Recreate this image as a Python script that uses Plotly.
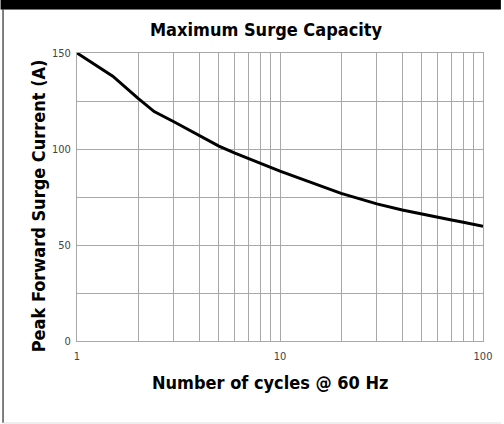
import plotly.graph_objects as go

# values
cycles = [1, 1.5, 2, 2.4, 3, 4, 5, 6, 7, 8, 9, 10, 20, 30, 40, 50, 60, 70, 80, 90, 100]
current = [150, 137.9, 126.4, 119.5, 114.2, 107.0, 101.5, 97.8, 95.1, 92.5, 90.4,
           88.5, 76.9, 71.4, 68.2, 66.0, 64.4, 63.0, 61.8, 60.9, 59.8]

x_ticks = [1, 10, 100]
x_ticklabels = ["1", "10", "100"]
y_ticks = [0, 50, 100, 150]

W, H = 504, 424
L, R, T, B = 77, 18, 53, 83
pw, ph = W - L - R, H - T - B


def px(x):
    return (x - L) / pw


def py(y):
    return (H - B - y) / ph


font = "DejaVu Sans Condensed, Liberation Sans Narrow, sans-serif"
grid = "#a8a8a8"

fig = go.Figure(
    go.Scatter(
        x=cycles,
        y=current,
        mode="lines",
        line=dict(color="black", width=3),
        showlegend=False,
    )
)

fig.update_layout(
    width=W,
    height=H,
    paper_bgcolor="white",
    plot_bgcolor="white",
    margin=dict(l=L, r=R, t=T, b=B),
    xaxis=dict(
        type="log",
        range=[0, 2],
        tickvals=x_ticks,
        ticktext=x_ticklabels,
        showgrid=True,
        gridcolor=grid,
        gridwidth=1,
        minor=dict(showgrid=True, gridcolor=grid, gridwidth=1,
                   dtick="D1", ticks=""),
        showline=True,
        linecolor=grid,
        mirror=True,
        ticks="",
        ticklabelstandoff=5,
        tickfont=dict(family=font, size=11, color="#444"),
    ),
    yaxis=dict(
        range=[0, 150],
        tickvals=y_ticks,
        showgrid=True,
        gridcolor=grid,
        gridwidth=1,
        minor=dict(showgrid=True, gridcolor=grid, gridwidth=1,
                   tickvals=[25, 75, 125], ticks=""),
        showline=True,
        linecolor=grid,
        mirror=True,
        zeroline=False,
        ticks="",
        ticklabelstandoff=3,
        tickfont=dict(family=font, size=11, color="#444"),
    ),
    annotations=[
        dict(text="<b>Maximum Surge Capacity</b>", xref="paper", yref="paper",
             x=px(268), y=py(30), xanchor="center", yanchor="middle",
             showarrow=False, font=dict(family=font, size=18, color="black")),
        dict(text="<b>Number of cycles @ 60 Hz</b>", xref="paper", yref="paper",
             x=px(272), y=py(382), xanchor="center", yanchor="middle",
             showarrow=False, font=dict(family=font, size=18, color="black")),
        dict(text="<b>Peak Forward Surge Current (A)</b>", xref="paper", yref="paper",
             x=px(38), y=py(206), xanchor="center", yanchor="middle",
             showarrow=False, textangle=-90,
             font=dict(family=font, size=18, color="black")),
    ],
    shapes=[
        # black strip along the top
        dict(type="rect", xref="paper", yref="paper",
             x0=px(0), x1=px(W), y0=py(0), y1=py(9),
             fillcolor="black", line_width=0, layer="above"),
        dict(type="line", xref="paper", yref="paper",
             x0=px(0), x1=px(W), y0=py(9.5), y1=py(9.5),
             line=dict(color="#777", width=1)),
        # frame
        dict(type="line", xref="paper", yref="paper",
             x0=px(2.5), x1=px(2.5), y0=py(9), y1=py(423),
             line=dict(color="#555", width=1.5)),
        dict(type="line", xref="paper", yref="paper",
             x0=px(2), x1=px(W), y0=py(423), y1=py(423),
             line=dict(color="#ddd", width=1)),
    ],
)

fig.write_html(
    "out.html",
    config={"displayModeBar": False},
    post_script="document.body.style.margin='0';document.body.style.overflow='hidden';",
)
